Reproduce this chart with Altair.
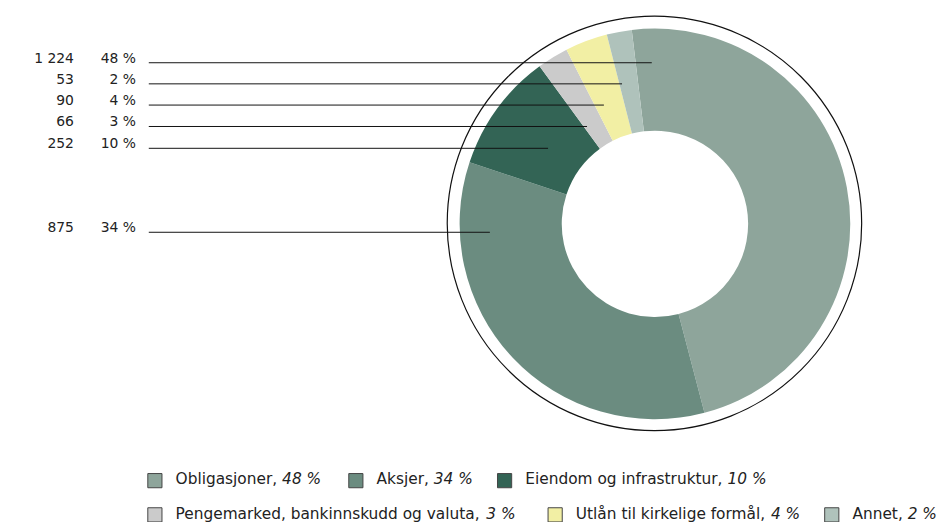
import math
import altair as alt
import pandas as pd

# ---- data ----
categories = ["Obligasjoner", "Aksjer", "Eiendom og infrastruktur",
              "Pengemarked, bankinnskudd og valuta", "Utlån til kirkelige formål", "Annet"]
values = [1224, 875, 252, 66, 90, 53]
percents = [48, 34, 10, 3, 4, 2]
colors = ["#8ea59b", "#6b8c80", "#336455", "#cbcbcb", "#f2efa4", "#afc2bb"]

# label rows on the left, top to bottom
label_cats = ["Obligasjoner", "Annet", "Utlån til kirkelige formål",
              "Pengemarked, bankinnskudd og valuta", "Eiendom og infrastruktur", "Aksjer"]
value_text = ["1 224", "53", "90", "66", "252", "875"]
pct_text = ["48 %", "2 %", "4 %", "3 %", "10 %", "34 %"]

# ---- layout (pixels inside the chart) ----
W, H = 939, 514
CX, CY = 652.5, 215.5
R_OUT, R_IN = 197, 94
RING_R = 209
START = -0.119
row_y = [53, 74.3, 95.7, 117.3, 139.3, 224]
leader_x0 = 142
leader_x1 = [649.3, 619.3, 601, 584, 544.7, 486]

# legend layout: left edge of each item's square, and row baselines
legend_item_x = [141, 343.7, 493.7, 141, 544.7, 823.7]
legend_row = [0, 0, 0, 1, 1, 1]
legend_baseline = [478.2, 512.7]
SQ = 14.3
LEG_FS = 15.5

FONT = "DejaVu Sans"

# approximate DejaVu Sans advance widths (em), to place the italic part
ADV = {" ": .318, ",": .318, "%": .950, "å": .613,
       "A": .684, "E": .632, "O": .787, "P": .603, "U": .732}
for ch in "0123456789":
    ADV[ch] = .636
ADV.update(dict(zip("abcdefghijklmnopqrstuvwxyz",
                    [.613, .635, .550, .635, .615, .352, .635, .634, .278, .278,
                     .579, .278, .974, .634, .612, .635, .635, .411, .521, .392,
                     .634, .592, .818, .592, .592, .525])))


def text_w(s, fs):
    return sum(ADV.get(c, .6) for c in s) * fs


df = pd.DataFrame({
    "cat": categories,
    "value": values,
    "order": list(range(len(categories))),
})

color_scale = alt.Scale(domain=categories, range=colors)

arc = alt.Chart(df).mark_arc(innerRadius=R_IN, radius=R_OUT).encode(
    theta=alt.Theta("value:Q", stack=True,
                    scale=alt.Scale(range=[START, START + 2 * math.pi])),
    color=alt.Color("cat:N", scale=color_scale, legend=None),
    order=alt.Order("order:Q"),
    x=alt.value(CX),
    y=alt.value(CY),
)

ring = alt.Chart(pd.DataFrame({"a": [0]})).mark_point(
    shape="circle", filled=False, size=(2 * RING_R) ** 2,
    stroke="#111111", strokeWidth=1.2, opacity=1
).encode(x=alt.value(CX - 0.5), y=alt.value(CY - 0.5))

lead = pd.DataFrame({
    "y": row_y,
    "x0": [leader_x0] * len(row_y),
    "x1": leader_x1,
    "v": value_text,
    "p": pct_text,
})

rules = alt.Chart(lead).mark_rule(color="#111111", strokeWidth=1).encode(
    x=alt.X("x0:Q", scale=None, axis=None),
    x2="x1:Q",
    y=alt.Y("y:Q", scale=None, axis=None),
)

vtext = alt.Chart(lead).mark_text(align="right", baseline="alphabetic", dy=0,
                                  font=FONT, fontSize=14, color="#222222").encode(
    x=alt.value(66.5),
    y=alt.Y("y:Q", scale=None, axis=None),
    text="v:N",
)
ptext = alt.Chart(lead).mark_text(align="right", baseline="alphabetic", dy=0,
                                  font=FONT, fontSize=14, color="#222222").encode(
    x=alt.value(129),
    y=alt.Y("y:Q", scale=None, axis=None),
    text="p:N",
)

# ---- manual legend (name upright, share in italics) ----
names = [f"{c}, " for c in categories]
pcts = [f"{p} %" for p in percents]
leg = pd.DataFrame({
    "cat": categories,
    "name": names,
    "pct": pcts,
    "sx": [x + SQ / 2 for x in legend_item_x],
    "sy": [legend_baseline[r] - 3.7 for r in legend_row],
    "tx": [x + 28 for x in legend_item_x],
    "px": [x + 28 + text_w(n, LEG_FS) for x, n in zip(legend_item_x, names)],
    "ty": [legend_baseline[r] for r in legend_row],
})

leg_sq = alt.Chart(leg).mark_square(size=SQ * SQ, stroke="#444444", strokeWidth=1,
                                    opacity=1).encode(
    x=alt.X("sx:Q", scale=None, axis=None),
    y=alt.Y("sy:Q", scale=None, axis=None),
    fill=alt.Fill("cat:N", scale=color_scale, legend=None),
)
leg_name = alt.Chart(leg).mark_text(align="left", baseline="alphabetic", font=FONT,
                                    fontSize=LEG_FS, color="#222222").encode(
    x=alt.X("tx:Q", scale=None, axis=None),
    y=alt.Y("ty:Q", scale=None, axis=None),
    text="name:N",
)
leg_pct = alt.Chart(leg).mark_text(align="left", baseline="alphabetic", font=FONT,
                                   fontSize=LEG_FS, fontStyle="italic",
                                   color="#222222").encode(
    x=alt.X("px:Q", scale=None, axis=None),
    y=alt.Y("ty:Q", scale=None, axis=None),
    text="pct:N",
)

chart = alt.layer(arc, ring, rules, vtext, ptext, leg_sq, leg_name, leg_pct).properties(
    width=W, height=H, padding=0, autosize=alt.AutoSizeParams(type="none")
).configure_view(stroke=None)

chart.save("out.html", embed_options={"renderer": "svg", "actions": False})
